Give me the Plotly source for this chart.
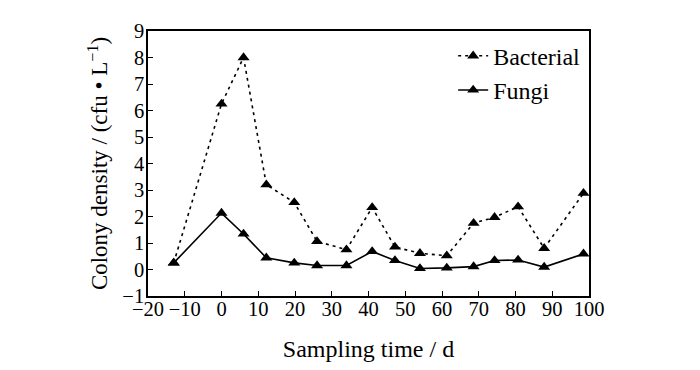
import plotly.graph_objects as go

days = [-13, 0, 6, 12.2, 19.8, 26, 34, 41, 47.2, 54, 61.3, 68.6, 74.3, 80.7, 87.8, 98.5]
bacterial = [0.25, 6.25, 8.0, 3.2, 2.53, 1.06, 0.75, 2.34, 0.85, 0.61, 0.52, 1.75, 1.97, 2.37, 0.8, 2.88]
fungi = [0.25, 2.13, 1.34, 0.44, 0.25, 0.15, 0.15, 0.68, 0.34, 0.04, 0.06, 0.11, 0.34, 0.36, 0.09, 0.59]
x_ticks = list(range(-20, 101, 10))
y_ticks = list(range(-1, 10))

font_family = "Times New Roman, Liberation Serif, serif"

fig = go.Figure()
fig.add_trace(go.Scatter(
    x=days, y=bacterial, name="Bacterial", mode="lines+markers",
    line=dict(color="black", width=1.6, dash="3px,4px"),
    marker=dict(symbol="triangle-up", size=10.5, color="black"),
))
fig.add_trace(go.Scatter(
    x=days, y=fungi, name="Fungi", mode="lines+markers",
    line=dict(color="black", width=1.6),
    marker=dict(symbol="triangle-up", size=10.5, color="black"),
))

axis_common = dict(
    showline=True, linecolor="black", linewidth=1.5, mirror=True,
    ticks="inside", ticklen=5, tickwidth=1.2, tickcolor="black",
    showgrid=False, zeroline=False, automargin=False,
    tickfont=dict(family=font_family, size=20.5, color="black"),
)

fig.update_layout(
    width=700, height=370,
    margin=dict(l=140, r=119, t=23, b=82),
    paper_bgcolor="white", plot_bgcolor="white",
    font=dict(family=font_family, size=21, color="black"),
    showlegend=True,
    legend=dict(
        x=0.692, y=0.99, xanchor="left", yanchor="top",
        bgcolor="rgba(0,0,0,0)", borderwidth=0,
        font=dict(family=font_family, size=24, color="black"),
        tracegroupgap=0, itemwidth=30,
    ),
    xaxis=dict(
        range=[-20, 100], tickvals=x_ticks, ticklabelstandoff=-6,
        title=dict(text="Sampling time / d", standoff=21,
                   font=dict(family=font_family, size=24, color="black")),
        **axis_common,
    ),
    yaxis=dict(
        range=[-1, 9], tickvals=y_ticks, ticklabelstandoff=-2,
        title=dict(text="Colony density / (cfu • L<sup>−1</sup>)", standoff=8,
                   font=dict(family=font_family, size=23, color="black")),
        **axis_common,
    ),
)

fig.write_html("out.html")
